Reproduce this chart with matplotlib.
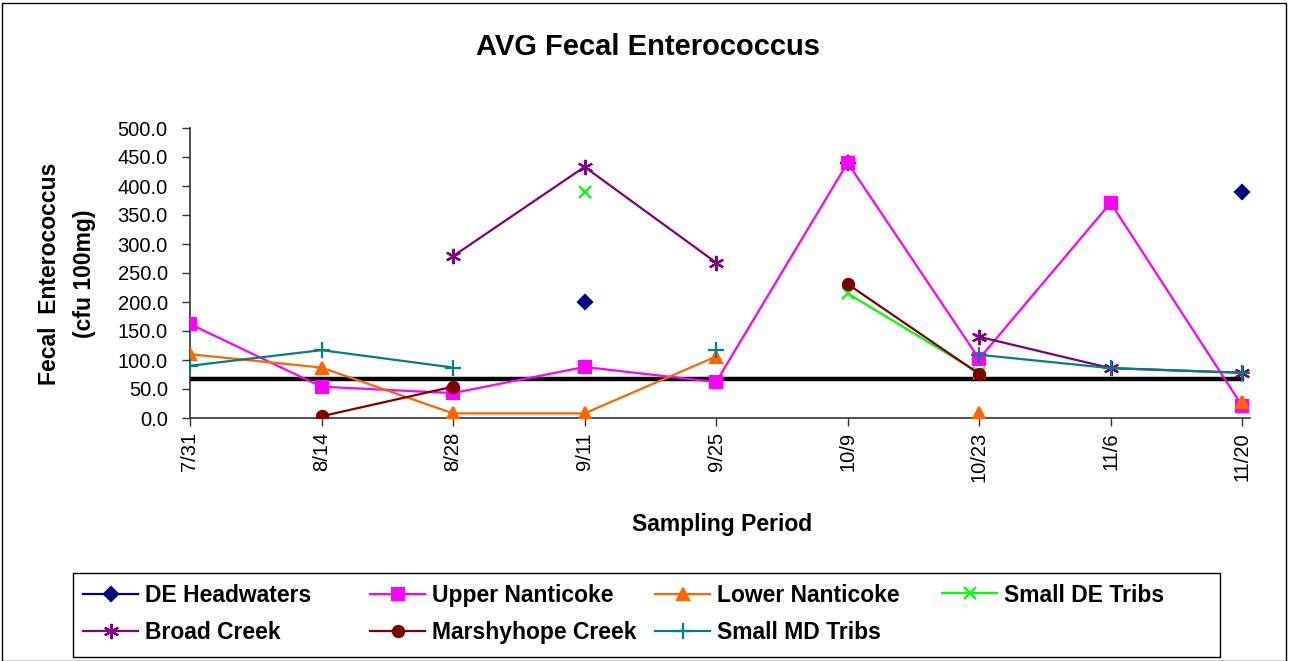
#!/usr/bin/env python3
"""AVG Fecal Enterococcus by sampling period, Excel-style line chart."""

import matplotlib
matplotlib.use("Agg")
import matplotlib.pyplot as plt
import numpy as np
from matplotlib.patches import Rectangle

nan = np.nan

PERIODS = ["7/31", "8/14", "8/28", "9/11", "9/25", "10/9", "10/23", "11/6", "11/20"]

DE_HEADWATERS = [nan, nan, nan, 200, nan, 440, nan, nan, 390]
UPPER_NANTICOKE = [162, 54, 43, 88, 62, 440, 102, 371, 21]
LOWER_NANTICOKE = [110, 87, 8, 8, 106, nan, 8, nan, 28]
SMALL_DE_TRIBS = [nan, nan, nan, 390, nan, 215, 78, nan, nan]
BROAD_CREEK = [nan, nan, 279, 433, 268, nan, 140, 86, 78]
MARSHYHOPE_CREEK = [nan, 3, 54, nan, nan, 231, 76, nan, nan]
SMALL_MD_TRIBS = [90, 117, 87, nan, 117, nan, 109, 86, 78]
STANDARD = [67] * len(PERIODS)

SERIES = [
    ("DE Headwaters", DE_HEADWATERS, "#000080", "D", 7),
    ("Upper Nanticoke", UPPER_NANTICOKE, "#FF00FF", "s", 8),
    ("Lower Nanticoke", LOWER_NANTICOKE, "#FF6600", "^", 9),
    ("Small DE Tribs", SMALL_DE_TRIBS, "#00FF00", "x", 9),
    ("Broad Creek", BROAD_CREEK, "#800080", (6, 2, 0), 11),
    ("Marshyhope Creek", MARSHYHOPE_CREEK, "#800000", "o", 8),
    ("Small MD Tribs", SMALL_MD_TRIBS, "#008080", "+", 11),
]

plt.rcParams["font.family"] = ["Liberation Sans", "DejaVu Sans"]

W, H = 1289, 661
fig = plt.figure(figsize=(W / 100, H / 100), dpi=100)
ax = fig.add_axes([190 / W, 243 / H, 1060 / W, 290 / H])

x = np.arange(len(PERIODS))
ax.plot(x, STANDARD, color="black", linewidth=3.2, zorder=2)

handles = {}
for label, vals, color, marker, size in SERIES:
    (line,) = ax.plot(
        x,
        np.array(vals, dtype=float),
        color=color,
        linewidth=1.6,
        marker=marker,
        markersize=size,
        markeredgewidth=1.6,
        label=label,
        zorder=3,
    )
    handles[label] = line

ax.set_xlim(0, 8.06)
ax.set_ylim(0, 500)
ax.set_yticks(np.arange(0, 501, 50))
ax.set_yticklabels([f"{v:.1f}" for v in np.arange(0, 501, 50)], fontsize=14.5)
ax.set_xticks(x)
ax.set_xticklabels(PERIODS, rotation=90, fontsize=14.5)
ax.tick_params(axis="both", direction="out", length=6, width=1, colors="#333333", labelcolor="black")
ax.tick_params(axis="y", pad=10)
ax.tick_params(axis="x", pad=4)
ax.spines[["top", "right"]].set_visible(False)
for side in ("left", "bottom"):
    ax.spines[side].set_color("#333333")
    ax.spines[side].set_linewidth(1.2)

fig.text(722 / W, 1 - 525 / H, "Sampling Period", ha="center", va="center",
         fontsize=16.5, fontweight="bold")
fig.text(50 / W, 1 - 274 / H, "Fecal  Enterococcus", ha="center", va="center",
         rotation=90, fontsize=16.5, fontweight="bold")
fig.text(84 / W, 1 - 274 / H, "(cfu 100mg)", ha="center", va="center",
         rotation=90, fontsize=16.5, fontweight="bold")

fig.text(648 / W, 1 - 47 / H, "AVG Fecal Enterococcus", ha="center", va="center",
         fontsize=21, fontweight="bold")

# legend: fixed-width columns like Excel, one small legend per column
columns = [
    (83, ["DE Headwaters", "Broad Creek"]),
    (370, ["Upper Nanticoke", "Marshyhope Creek"]),
    (655, ["Lower Nanticoke", "Small MD Tribs"]),
    (942, ["Small DE Tribs"]),
]
for x_left, labels in columns:
    y_center = 614 if len(labels) == 2 else 595
    fig.legend(
        [handles[k] for k in labels],
        labels,
        loc="center left",
        bbox_to_anchor=(x_left / W, 1 - y_center / H),
        frameon=False,
        handlelength=2.4,
        handletextpad=0.3,
        borderpad=0,
        borderaxespad=0,
        labelspacing=0.62,
        prop={"weight": "bold", "size": 16.5},
    )

fig.patches.append(Rectangle((73 / W, 1 - 657 / H), 1147 / W, 84 / H, transform=fig.transFigure,
                             fill=False, edgecolor="black", linewidth=1.0))
fig.patches.append(Rectangle((2 / W, 0), 1284 / W, 658 / H, transform=fig.transFigure,
                             fill=False, edgecolor="black", linewidth=1.0))

fig.savefig("out.png", dpi=100)
